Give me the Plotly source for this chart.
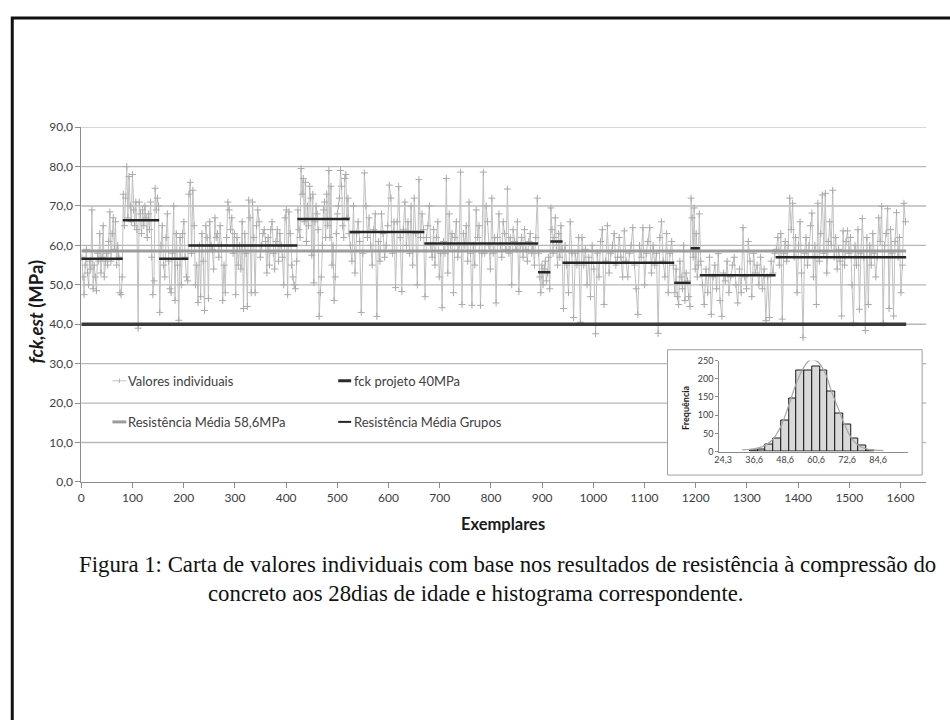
import numpy as np
import plotly.graph_objects as go

# ---------------- data ----------------
group_start = [0, 81, 152, 209, 422, 524, 670, 892, 916, 940, 1158, 1190, 1208, 1356]
group_end = [81, 152, 209, 422, 524, 670, 892, 916, 940, 1158, 1190, 1208, 1356, 1611]
group_mean = [56.6, 66.4, 56.6, 60.0, 66.7, 63.4, 60.5, 53.2, 61.0, 55.6, 50.5, 59.3, 52.4, 57.0]

g01 = [57, 52, 47.5, 55, 59, 53, 50, 56, 54, 69, 49, 55, 52, 48.5, 58, 56, 63, 53, 57, 65,
       52, 56, 58, 55, 61, 68.5, 56, 63, 67, 59, 66, 55, 60, 57, 48, 47.5, 52]
g02 = [73, 65, 72, 80, 67, 77.5, 70, 66, 78, 69, 65, 71, 64, 39, 71, 68, 63, 69, 65, 70,
       67, 62, 68, 64, 71, 57, 47.5, 51, 74.5, 69, 72, 70]
g03 = [43, 60, 65, 55, 52, 62, 68, 56, 49, 48, 58, 70, 46, 63, 55, 41, 62, 50, 63, 66,
       57, 52, 51]
g04 = [73, 76, 58, 74, 65, 50, 55, 45.5, 60, 47, 63, 56, 43.5, 65, 62, 46.5, 66, 60, 59, 54,
       67, 62, 63, 57, 65, 60, 46, 55, 48, 62, 71, 69, 64, 67, 58, 63, 47.5, 62, 55, 60,
       54, 66, 44, 63, 58, 44.5, 71.5, 67, 48, 71, 62, 48, 65, 69, 66, 57, 60, 63, 64, 61,
       53, 62, 55, 64, 66, 58, 54, 61, 64, 56, 63, 60, 57, 50, 67, 69, 47.5, 68.5, 63, 55,
       52, 50, 49, 56]
g05 = [69, 64, 62, 79.5, 73, 77, 66, 76, 61, 70, 65, 75, 72, 57.5, 73, 50.5, 66, 70, 68, 64,
       42, 48, 52, 60, 69, 71, 62, 73, 65, 79, 62, 75, 55, 60, 46, 52, 63, 68, 70, 72,
       79, 75, 65, 62, 77, 78, 67, 72, 63]
g06 = [60, 56, 70, 53, 63, 66, 61, 43, 58, 78.4, 70, 62, 67, 60, 55, 64, 68, 42, 61, 56,
       68, 63, 57, 60, 65, 75.3, 72, 58, 66, 49.3, 66, 74.9, 62, 48.3, 64, 71, 60, 66, 58, 70,
       55, 72, 63, 50, 76.7, 62, 68, 64]
g07 = [47, 62, 65, 70, 60, 57, 64, 55, 62, 66, 52, 58, 44.2, 61, 58, 77, 53, 68, 60, 63,
       48, 62, 66, 57, 60, 78.6, 45, 63, 60, 65, 56, 71, 58, 44.8, 60, 55, 69, 62, 65, 44.8,
       58, 78.6, 58, 70, 66, 60, 54, 72, 58, 62, 45.4, 62, 68, 60, 57, 66, 63, 59, 74.3, 58,
       62, 50, 64, 61, 59, 66, 48.3, 60, 62, 57, 64, 59, 56, 61, 63, 58, 60, 55, 62, 72]
g08 = [58, 52, 48, 55, 50, 54, 56, 51, 53, 57, 49]
g09 = [69.5, 64, 58, 62, 67, 60, 55, 63, 57, 65, 59]
g10 = [44, 60, 55, 48, 66, 58, 41.7, 58, 55, 62, 40.5, 62, 55, 59, 50, 57, 47, 60, 54, 37.6,
       58, 52, 61, 64, 45, 56, 65, 53, 58, 60, 63, 55, 57, 62, 57, 52, 63.7, 56, 52, 58,
       60, 64.5, 55, 49, 42.5, 60, 57, 64.5, 50, 58, 61, 64.5, 53, 60, 55, 58, 37.7, 62, 66, 56,
       52, 63, 48, 58, 61, 55]
g11 = [48, 54, 47, 45, 56, 52, 49, 60, 46, 53, 51, 47, 44.5]
g12 = [72, 67, 57, 69.5, 54, 63, 52, 55, 68]
g13 = [56, 50, 45, 54, 48, 57, 42.5, 52, 55, 49, 57.9, 46, 42, 53, 51, 56, 48, 52, 55, 57,
       50, 45.4, 54, 48, 64.5, 52, 49, 61, 56, 47, 58, 53, 55, 50, 57, 49, 54, 40.9, 52, 41.7,
       56, 53, 58]
g14 = [59, 62, 55, 63, 41.3, 58, 61, 56, 60, 72, 64, 70.7, 57, 62, 48, 60, 66, 53, 36.6, 58,
       62, 55, 60, 65, 68.2, 52, 60, 45, 70.7, 56, 63, 72.8, 58, 73.2, 53, 61, 66, 60, 74, 57,
       62, 54, 59, 56, 42.1, 63.7, 55, 61, 63.7, 58, 62, 50, 40.3, 60, 55, 64, 43.8, 58, 66.8, 57,
       38.4, 62, 45, 60, 55, 63, 58, 52, 57, 67, 61, 69.9, 40.3, 60, 63, 69.3, 44, 64, 58, 42.1,
       61, 68.3, 57, 62, 48, 55, 70.7, 66]
groups_values = [g01, g02, g03, g04, g05, g06, g07, g08, g09, g10, g11, g12, g13, g14]

mean_total = 58.6
fck_projeto = 40.0

y_ticks = [0, 10, 20, 30, 40, 50, 60, 70, 80, 90]

# histogram inset
hist_labels = ["24,3", "36,6", "48,6", "60,6", "72,6", "84,6"]
hist_label_pos = [0, 4, 8, 12, 16, 20]
hist_bin = [4, 5, 6, 7, 8, 9, 10, 11, 12, 13, 14, 15, 16, 17, 18, 19]
hist_count = [2, 5, 20, 36, 84, 145, 222, 222, 233, 223, 165, 104, 75, 36, 17, 3]
curve_x = [2.45, 3.7, 5.0, 6.3, 7.4, 8.45, 9.3, 10.2, 11.0, 11.5, 12.3, 13.2, 14.0, 14.9,
           15.75, 16.6, 17.5, 18.75, 20.7]
curve_y = [4.5, 7, 13, 31, 67, 125, 179, 223, 248, 252, 245, 214, 165, 116, 71, 36, 16, 6, 2.7]

# ---------------- geometry (pixels -> paper) ----------------
W, H = 950, 720
def px(x): return x / W
def py(y): return 1 - y / H

main_x0, main_x1 = 76.7, 926.0
main_y0, main_y1 = 484.0, 121.7
ins_box = (666, 349, 922, 477)
ins_x0, ins_x1 = 718.0, 908.0
ins_y0, ins_y1 = 453.0, 360.0

FONT = "Lato"
TXT = "#404040"

# ---------------- traces ----------------
xs, ys = [], []
for s, e, vals in zip(group_start, group_end, groups_values):
    n = len(vals)
    for i, v in enumerate(vals):
        xs.append(s + (e - s) * (i + 0.5) / n)
        ys.append(v)

fig = go.Figure()
fig.add_trace(go.Scatter(
    x=xs, y=ys, mode="lines+markers",
    line=dict(color="#c0c0c0", width=1),
    marker=dict(symbol="cross-thin", size=5, line=dict(color="#aaaaaa", width=1)),
    xaxis="x", yaxis="y", showlegend=False, hoverinfo="skip"))

fig.add_trace(go.Scatter(
    x=[0, group_end[-1]], y=[mean_total, mean_total], mode="lines",
    line=dict(color="#9c9c9c", width=3), xaxis="x", yaxis="y", showlegend=False))
fig.add_trace(go.Scatter(
    x=[0, group_end[-1]], y=[fck_projeto, fck_projeto], mode="lines",
    line=dict(color="#3a3a3a", width=3.5), xaxis="x", yaxis="y", showlegend=False))

gx, gy = [], []
for s, e, m in zip(group_start, group_end, group_mean):
    gx += [s, e, None]
    gy += [m, m, None]
fig.add_trace(go.Scatter(
    x=gx, y=gy, mode="lines", line=dict(color="#262626", width=2.5),
    xaxis="x", yaxis="y", showlegend=False))

fig.add_trace(go.Bar(
    x=hist_bin, y=hist_count, width=1.0,
    marker=dict(color="#d9d9d9", line=dict(color="#1a1a1a", width=1)),
    xaxis="x2", yaxis="y2", showlegend=False))
fig.add_trace(go.Scatter(
    x=curve_x, y=curve_y, mode="lines", line=dict(color="#a6a6a6", width=1.2, shape="spline"),
    xaxis="x2", yaxis="y2", showlegend=False))

# ---------------- shapes ----------------
shapes = []
for v in y_ticks[1:]:
    yy = main_y0 - (main_y0 - main_y1) * v / 90.0
    if yy > ins_box[1] and yy < ins_box[3]:
        segs = [(main_x0, ins_box[0]), (ins_box[2], main_x1)]
    else:
        segs = [(main_x0, main_x1)]
    for a, b in segs:
        shapes.append(dict(type="line", xref="paper", yref="y", x0=px(a), x1=px(b), y0=v, y1=v,
                           line=dict(color="#b8b8b8", width=1.3), layer="below"))

shapes.append(dict(type="rect", xref="paper", yref="paper",
                   x0=px(ins_box[0]), x1=px(ins_box[2]), y0=py(ins_box[3]), y1=py(ins_box[1]),
                   line=dict(color="#a0a0a0", width=1), fillcolor="rgba(0,0,0,0)", layer="below"))

# outer frame
shapes.append(dict(type="rect", xref="paper", yref="paper",
                   x0=px(7.3), x1=px(960), y0=py(730), y1=py(10.3),
                   line=dict(color="#111111", width=3), fillcolor="rgba(0,0,0,0)"))

# legend keys
def hline(x0, x1, y, color, width):
    shapes.append(dict(type="line", xref="paper", yref="paper", x0=px(x0), x1=px(x1),
                       y0=py(y), y1=py(y), line=dict(color=color, width=width)))
hline(108, 122, 380.7, "#c4c4c4", 1)
shapes.append(dict(type="line", xref="paper", yref="paper", x0=px(115), x1=px(115),
                   y0=py(378.5), y1=py(383), line=dict(color="#b0b0b0", width=1)))
hline(335, 348, 380.7, "#2a2a2a", 3)
hline(108, 122, 422.7, "#9c9c9c", 3)
hline(335, 348, 422.7, "#262626", 2)

# ---------------- annotations ----------------
ann = []
def text(x, y, t, size=13, xanchor="left", family=FONT, color=TXT, angle=0):
    ann.append(dict(x=px(x), y=py(y), xref="paper", yref="paper", text=t, showarrow=False,
                    xanchor=xanchor, yanchor="middle", textangle=angle,
                    font=dict(family=family, size=size, color=color)))

text(122, 380.7, "Valores individuais", 13)
text(348.5, 380.7, "fck projeto 40MPa", 13)
text(122, 422.7, "Resistência Média 58,6MPa", 13)
text(348.5, 422.7, "Resistência Média Grupos", 13)
text(501, 527, "<b>Exemplares</b>", 16.5, xanchor="center", color="#1a1a1a")
text(31, 310, "<b><i>fck,est</i> (MPa)</b>", 18.5, xanchor="center", color="#1a1a1a", angle=-90)
text(684, 408, "<b>Frequência</b>", 9, xanchor="center", color="#1a1a1a", angle=-90)
text(505, 568, "Figura 1: Carta de valores individuais com base nos resultados de resistência à compressão do",
     22.8, xanchor="center", family="Liberation Serif", color="#111111")
text(473, 598, "concreto aos 28dias de idade e histograma correspondente.",
     22.8, xanchor="center", family="Liberation Serif", color="#111111")

fig.update_layout(
    width=W, height=H, margin=dict(l=0, r=0, t=0, b=0),
    paper_bgcolor="white", plot_bgcolor="rgba(0,0,0,0)",
    separators=",.", showlegend=False, bargap=0,
    shapes=shapes, annotations=ann,
    xaxis=dict(domain=[px(main_x0), px(main_x1)], range=[0, 1650], anchor="y",
               tickmode="linear", tick0=0, dtick=100, ticks="outside", ticklen=5,
               tickcolor="#8c8c8c", showline=True, linecolor="#8c8c8c", linewidth=1,
               showgrid=False, zeroline=False,
               tickfont=dict(family=FONT, size=12, color=TXT)),
    yaxis=dict(domain=[py(main_y0), py(main_y1)], range=[0, 90], anchor="x",
               tickvals=y_ticks, tickformat=".1f", ticks="outside", ticklen=5,
               tickcolor="#8c8c8c", showline=True, linecolor="#8c8c8c", linewidth=1,
               showgrid=False, zeroline=False,
               tickfont=dict(family=FONT, size=12, color=TXT)),
    xaxis2=dict(domain=[px(ins_x0), px(ins_x1)], range=[-0.5, 23.9], anchor="y2",
                tickvals=hist_label_pos, ticktext=hist_labels, ticks="",
                showline=True, linecolor="#8c8c8c", linewidth=1, showgrid=False, zeroline=False,
                tickfont=dict(family=FONT, size=9, color=TXT)),
    yaxis2=dict(domain=[py(ins_y0), py(ins_y1)], range=[0, 250], anchor="x2",
                tickvals=[0, 50, 100, 150, 200, 250], ticks="outside", ticklen=3,
                tickcolor="#8c8c8c", showline=True, linecolor="#8c8c8c", linewidth=1,
                showgrid=False, zeroline=False,
                tickfont=dict(family=FONT, size=9, color=TXT)),
)

fig.write_html("out.html", config={"displayModeBar": False},
               post_script="document.body.style.margin='0px';")
